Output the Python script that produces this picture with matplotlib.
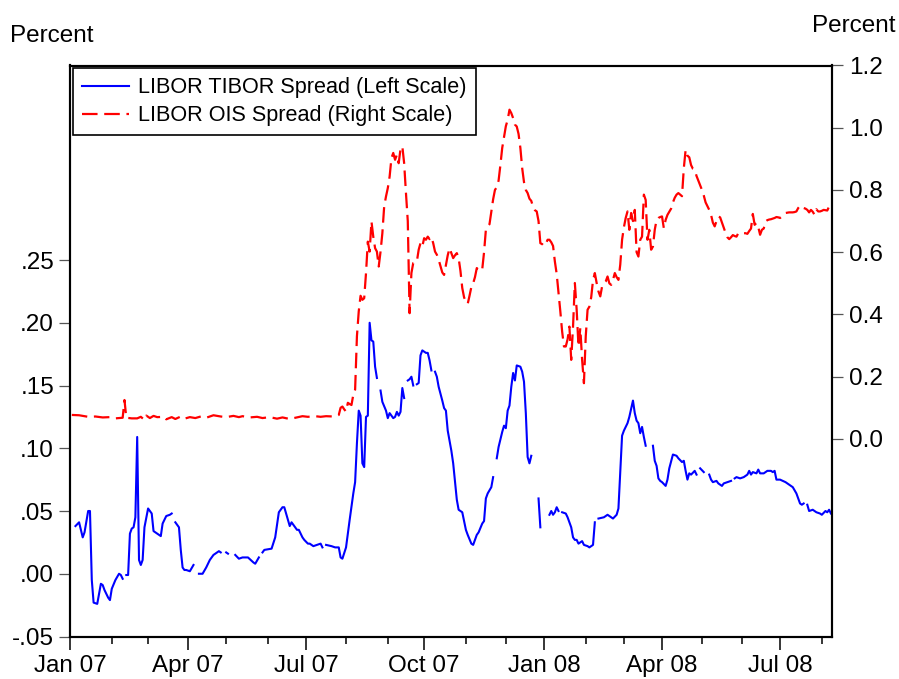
import numpy as np
import pandas as pd
import matplotlib
matplotlib.use("Agg")
import matplotlib.pyplot as plt
from matplotlib.ticker import FixedLocator, FuncFormatter

plt.rcParams['font.family'] = ['Liberation Sans', 'DejaVu Sans']

NA = np.nan

# LIBOR-TIBOR spread (left scale), NA = holiday, no fixing
tibor_dates = [
    '2007-01-04', '2007-01-08', '2007-01-10', '2007-01-11', '2007-01-15', '2007-01-16', '2007-01-17', '2007-01-18',
    '2007-01-22', '2007-01-23', '2007-01-24', '2007-01-25', '2007-01-26', '2007-01-30', '2007-01-31', '2007-02-01',
    '2007-02-05', '2007-02-07', '2007-02-08', '2007-02-09', '2007-02-12', '2007-02-13', '2007-02-14', '2007-02-15',
    '2007-02-16', '2007-02-19', '2007-02-20', '2007-02-21', '2007-02-22', '2007-02-23', '2007-02-26', '2007-02-27',
    '2007-03-01', '2007-03-02', '2007-03-05', '2007-03-06', '2007-03-08', '2007-03-12', '2007-03-13', '2007-03-15',
    '2007-03-19', '2007-03-20', '2007-03-21', '2007-03-22', '2007-03-26', '2007-03-27', '2007-03-28', '2007-03-29',
    '2007-03-30', '2007-04-03', '2007-04-05', '2007-04-06', '2007-04-10', '2007-04-12', '2007-04-16', '2007-04-18',
    '2007-04-20', '2007-04-25', '2007-04-26', '2007-04-30', '2007-05-01', '2007-05-02', '2007-05-03', '2007-05-08',
    '2007-05-10', '2007-05-14', '2007-05-17', '2007-05-22', '2007-05-23', '2007-05-25', '2007-05-28', '2007-05-29',
    '2007-05-30', '2007-06-05', '2007-06-07', '2007-06-11', '2007-06-13', '2007-06-14', '2007-06-15', '2007-06-19',
    '2007-06-20', '2007-06-22', '2007-06-25', '2007-06-26', '2007-06-28', '2007-06-29', '2007-07-03', '2007-07-04',
    '2007-07-06', '2007-07-10', '2007-07-12', '2007-07-13', '2007-07-16', '2007-07-17', '2007-07-20', '2007-07-24',
    '2007-07-26', '2007-07-27', '2007-07-30', '2007-08-01', '2007-08-03', '2007-08-07', '2007-08-08', '2007-08-09',
    '2007-08-10', '2007-08-13', '2007-08-14', '2007-08-15', '2007-08-16', '2007-08-17', '2007-08-20', '2007-08-21',
    '2007-08-22', '2007-08-23', '2007-08-24', '2007-08-27', '2007-08-28', '2007-08-29', '2007-08-31', '2007-09-03',
    '2007-09-04', '2007-09-06', '2007-09-07', '2007-09-10', '2007-09-11', '2007-09-12', '2007-09-13', '2007-09-14',
    '2007-09-17', '2007-09-18', '2007-09-19', '2007-09-20', '2007-09-21', '2007-09-24', '2007-09-25', '2007-09-26',
    '2007-09-27', '2007-09-28', '2007-10-02', '2007-10-03', '2007-10-04', '2007-10-05', '2007-10-08', '2007-10-09',
    '2007-10-10', '2007-10-11', '2007-10-15', '2007-10-16', '2007-10-17', '2007-10-18', '2007-10-22', '2007-10-23',
    '2007-10-25', '2007-10-26', '2007-10-30', '2007-11-01', '2007-11-02', '2007-11-06', '2007-11-07', '2007-11-09',
    '2007-11-12', '2007-11-14', '2007-11-15', '2007-11-16', '2007-11-19', '2007-11-21', '2007-11-22', '2007-11-23',
    '2007-11-26', '2007-11-27', '2007-11-29', '2007-11-30', '2007-12-03', '2007-12-04', '2007-12-05', '2007-12-06',
    '2007-12-07', '2007-12-10', '2007-12-11', '2007-12-13', '2007-12-14', '2007-12-17', '2007-12-18', '2007-12-19',
    '2007-12-20', '2007-12-21', '2007-12-24', '2007-12-27', '2007-12-28', '2007-12-31', '2008-01-04', '2008-01-07',
    '2008-01-08', '2008-01-09', '2008-01-10', '2008-01-11', '2008-01-14', '2008-01-15', '2008-01-17', '2008-01-18',
    '2008-01-22', '2008-01-23', '2008-01-24', '2008-01-25', '2008-01-28', '2008-01-30', '2008-01-31', '2008-02-04',
    '2008-02-05', '2008-02-07', '2008-02-08', '2008-02-11', '2008-02-12', '2008-02-15', '2008-02-19', '2008-02-21',
    '2008-02-22', '2008-02-26', '2008-02-27', '2008-02-29', '2008-03-03', '2008-03-05', '2008-03-06', '2008-03-10',
    '2008-03-11', '2008-03-12', '2008-03-13', '2008-03-14', '2008-03-17', '2008-03-18', '2008-03-19', '2008-03-20',
    '2008-03-25', '2008-03-26', '2008-03-27', '2008-03-28', '2008-03-31', '2008-04-01', '2008-04-03', '2008-04-04',
    '2008-04-07', '2008-04-09', '2008-04-11', '2008-04-14', '2008-04-16', '2008-04-17', '2008-04-18', '2008-04-21',
    '2008-04-22', '2008-04-23', '2008-04-25', '2008-04-28', '2008-04-29', '2008-04-30', '2008-05-02', '2008-05-05',
    '2008-05-07', '2008-05-08', '2008-05-09', '2008-05-13', '2008-05-14', '2008-05-16', '2008-05-19', '2008-05-21',
    '2008-05-23', '2008-05-26', '2008-05-27', '2008-05-28', '2008-05-30', '2008-06-03', '2008-06-05', '2008-06-06',
    '2008-06-09', '2008-06-10', '2008-06-12', '2008-06-13', '2008-06-16', '2008-06-18', '2008-06-20', '2008-06-24',
    '2008-06-25', '2008-06-26', '2008-06-27', '2008-07-01', '2008-07-04', '2008-07-08', '2008-07-10', '2008-07-14',
    '2008-07-16', '2008-07-17', '2008-07-18', '2008-07-21', '2008-07-22', '2008-07-23', '2008-07-25', '2008-07-29',
    '2008-07-31', '2008-08-01', '2008-08-05', '2008-08-06', '2008-08-07', '2008-08-08',
]
tibor_values = [
    0.038, 0.041, 0.029, 0.033, 0.050, 0.050, -0.005, -0.023,
    -0.024, -0.016, -0.008, -0.009, -0.013, -0.019, -0.021, -0.012,
    -0.005, 0.000, -0.001, -0.004, NA, -0.001, -0.001, 0.032,
    0.036, 0.037, 0.045, 0.109, 0.011, 0.007, 0.011, 0.037,
    0.052, 0.050, 0.048, 0.034, 0.032, 0.030, 0.040, 0.046,
    0.047, 0.048, NA, 0.041, 0.037, 0.019, 0.005, 0.003,
    0.003, 0.002, 0.007, NA, 0.000, 0.000, 0.005, 0.011,
    0.015, 0.018, 0.017, NA, 0.017, 0.016, NA, 0.015,
    0.012, 0.013, 0.013, 0.009, 0.008, 0.013, NA, 0.017,
    0.019, 0.020, 0.029, 0.049, 0.053, 0.053, 0.048, 0.038,
    0.041, 0.037, 0.035, 0.035, 0.029, 0.027, 0.024, 0.024,
    0.022, 0.023, 0.024, 0.021, NA, 0.023, 0.022, 0.021,
    0.021, 0.013, 0.012, 0.021, 0.043, 0.064, 0.073, 0.104,
    0.130, 0.126, 0.088, 0.085, 0.125, 0.126, 0.200, 0.186,
    0.185, 0.165, 0.156, NA, 0.146, 0.137, 0.130, 0.124,
    0.128, 0.124, 0.125, 0.129, 0.126, 0.129, 0.148, 0.140,
    NA, 0.154, 0.155, 0.157, 0.150, NA, 0.151, 0.152,
    0.174, 0.178, 0.176, 0.176, 0.170, 0.162, NA, 0.161,
    0.157, 0.149, 0.138, 0.132, 0.130, 0.114, 0.098, 0.088,
    0.059, 0.051, 0.049, 0.035, 0.031, 0.024, 0.023, 0.031,
    0.033, 0.040, 0.042, 0.060, 0.064, 0.069, 0.077, NA,
    0.092, 0.101, 0.113, 0.118, 0.116, 0.130, 0.134, 0.149,
    0.160, 0.154, 0.166, 0.165, 0.161, 0.153, 0.128, 0.093,
    0.088, 0.094, NA, 0.060, 0.037, NA, 0.047, 0.050,
    0.047, 0.049, 0.053, 0.050, NA, 0.049, 0.048, 0.045,
    0.037, 0.029, 0.027, 0.027, 0.024, 0.026, 0.023, 0.022,
    0.021, 0.023, 0.041, NA, 0.044, 0.045, 0.047, 0.045,
    0.044, 0.047, 0.052, 0.110, 0.114, 0.120, 0.125, 0.138,
    0.128, 0.122, 0.120, 0.112, 0.117, 0.109, 0.102, NA,
    0.102, 0.090, 0.086, 0.076, 0.074, 0.073, 0.070, 0.075,
    0.084, 0.095, 0.094, 0.092, 0.089, 0.090, 0.082, 0.075,
    0.080, 0.079, 0.082, 0.079, NA, 0.084, 0.081, NA,
    0.079, 0.075, 0.073, 0.074, 0.072, 0.070, 0.072, 0.073,
    0.074, NA, 0.076, 0.077, 0.076, 0.077, 0.079, 0.082,
    0.079, 0.081, 0.080, 0.083, 0.080, 0.080, 0.082, 0.082,
    0.081, 0.082, 0.075, 0.075, 0.073, 0.071, 0.069, 0.064,
    0.056, 0.055, 0.056, NA, 0.055, 0.050, 0.051, 0.049,
    0.048, 0.047, 0.050, 0.049, 0.051, 0.048,
]

# LIBOR-OIS spread (right scale): calm months first ...
ois_early_dates = [
    '2007-01-02', '2007-01-08', '2007-01-15', '2007-01-19', '2007-01-25', '2007-01-31', '2007-02-05', '2007-02-09',
    '2007-02-12', '2007-02-13', '2007-02-16', '2007-02-21', '2007-02-23', '2007-02-27', '2007-02-28', '2007-03-02',
    '2007-03-06', '2007-03-08', '2007-03-14', '2007-03-15', '2007-03-20', '2007-03-22', '2007-03-27', '2007-03-29',
    '2007-04-03', '2007-04-06', '2007-04-11', '2007-04-16', '2007-04-20', '2007-04-26', '2007-05-01', '2007-05-07',
    '2007-05-10', '2007-05-14', '2007-05-18', '2007-05-24', '2007-05-29', '2007-06-04', '2007-06-08', '2007-06-13',
    '2007-06-19', '2007-06-22', '2007-06-28', '2007-07-03', '2007-07-09', '2007-07-12', '2007-07-17', '2007-07-23',
]
ois_early_values = [
    0.077, 0.076, 0.071, 0.072, 0.069, 0.070, 0.066, 0.068,
    0.125, 0.068, 0.066, 0.066, 0.071, 0.061, 0.075, 0.067,
    0.074, 0.070, 0.071, 0.063, 0.070, 0.064, 0.072, 0.065,
    0.070, 0.067, 0.072, 0.068, 0.076, 0.072, 0.070, 0.074,
    0.070, 0.073, 0.069, 0.071, 0.067, 0.070, 0.065, 0.069,
    0.064, 0.068, 0.073, 0.071, 0.073, 0.071, 0.073, 0.072,
]
# ... then every business day from the end of July 2007 (10 per row = two weeks)
ois_daily_start = '2007-07-26'
ois_daily_values = [
    0.077, 0.100, 0.104, 0.095, 0.088, 0.116, 0.112, 0.109, 0.142, 0.158,
    0.330, 0.410, 0.460, 0.447, 0.452, 0.533, 0.634, 0.602, 0.699, 0.650,
    0.613, 0.602, 0.554, 0.602, 0.661, 0.747, 0.779, 0.806, 0.843, 0.902,
    0.919, 0.897, 0.913, 0.886, 0.932, 0.940, 0.886, 0.790, 0.700, 0.404,
    0.533, 0.565, 0.567, 0.570, 0.608, 0.629, 0.618, 0.645, 0.640, 0.650,
    0.642, 0.649, 0.629, 0.602, 0.592, 0.576, 0.555, 0.535, 0.527, 0.559,
    0.590, 0.613, 0.597, 0.581, 0.590, 0.597, 0.581, 0.540, 0.485, 0.455,
    0.440, 0.434, 0.460, 0.488, 0.500, 0.520, 0.549, 0.543, 0.540, 0.545,
    0.600, 0.672, 0.683, 0.690, 0.730, 0.770, 0.800, 0.809, 0.830, 0.880,
    0.935, 0.970, 1.005, 1.025, 1.058, 1.047, 1.031, 1.010, 1.004, 0.980,
    0.935, 0.870, 0.825, 0.800, 0.790, 0.772, 0.765, 0.745, 0.735, 0.731,
    0.700, 0.629, 0.626, 0.620, 0.627, 0.640, 0.640, 0.632, 0.620, 0.570,
    0.530, 0.470, 0.410, 0.345, 0.297, 0.297, 0.320, 0.361, 0.254, 0.361,
    0.501, 0.415, 0.297, 0.356, 0.254, 0.179, 0.330, 0.415, 0.425, 0.455,
    0.510, 0.533, 0.501, 0.474, 0.458, 0.490, 0.500, 0.506, 0.522, 0.500,
    0.495, 0.511, 0.533, 0.520, 0.511, 0.560, 0.640, 0.680, 0.710, 0.731,
    0.672, 0.726, 0.700, 0.736, 0.600, 0.586, 0.640, 0.650, 0.785, 0.768,
    0.640, 0.672, 0.608, 0.618, 0.672, 0.704, 0.710, 0.713, 0.715, 0.677,
    0.704, 0.720, 0.730, 0.740, 0.760, 0.775, 0.785, 0.790, 0.785, 0.780,
    0.870, 0.929, 0.910, 0.905, 0.880, 0.868, 0.865, 0.845, 0.830, 0.815,
    0.800, 0.782, 0.760, 0.748, 0.736, 0.720, 0.695, 0.683, 0.700, 0.715,
    0.712, 0.695, 0.678, 0.662, 0.648, 0.642, 0.648, 0.655, 0.652, 0.650,
    0.661, 0.662, 0.663, 0.661, 0.661, 0.659, 0.668, 0.676, 0.723, 0.688,
    0.694, 0.681, 0.656, 0.672, 0.676, 0.699, 0.703, 0.705, 0.706, 0.708,
    0.710, 0.713, 0.712, 0.710, 0.715, 0.720, 0.726, 0.727, 0.728, 0.728,
    0.728, 0.729, 0.731, 0.742, 0.749, 0.742, 0.742, 0.740, 0.736, 0.728,
    0.736, 0.730, 0.720, 0.738, 0.731, 0.731, 0.733, 0.736, 0.735, 0.734,
    0.747, 0.752,
]

sample_start = '2007-01-01'
sample_end = '2008-08-08'
quarter_labels = ['Jan 07', 'Apr 07', 'Jul 07', 'Oct 07', 'Jan 08', 'Apr 08', 'Jul 08']
left_ticks = [-0.05, 0.00, 0.05, 0.10, 0.15, 0.20, 0.25]
right_ticks = [0.0, 0.2, 0.4, 0.6, 0.8, 1.0, 1.2]


def obs(dates):
    # EViews daily (5 day week) axis: one step per weekday
    d = pd.DatetimeIndex(pd.to_datetime(dates)).values.astype('datetime64[D]')
    return np.busday_count(np.datetime64(sample_start), d)


ois_dates = pd.to_datetime(ois_early_dates).append(
    pd.bdate_range(ois_daily_start, periods=len(ois_daily_values)))
ois_values = ois_early_values + ois_daily_values

months = pd.date_range(sample_start, sample_end, freq='MS')
quarters = months[months.month.isin([1, 4, 7, 10])]

fig = plt.figure(figsize=(8.99, 6.79), dpi=100)
ax = fig.add_axes([70 / 899, 1 - 636.5 / 679, 762 / 899, 571 / 679])

ax.plot(obs(tibor_dates), np.array(tibor_values, dtype=float), color='#0000ff', lw=1.5,
        label='LIBOR TIBOR Spread (Left Scale)')
ax.set_ylim(-0.05, 0.405)
ax.yaxis.set_major_locator(FixedLocator(left_ticks))
ax.yaxis.set_major_formatter(FuncFormatter(lambda v, p: f'{v:.2f}'.replace('0.', '.', 1)))

ax2 = ax.twinx()
ax2.plot(obs(ois_dates), ois_values, color='#ff0000', lw=1.6, linestyle=(0, (7, 3)),
         label='LIBOR OIS Spread (Right Scale)')
ax2.set_ylim(-0.635, 1.2)
ax2.yaxis.set_major_locator(FixedLocator(right_ticks))
ax2.yaxis.set_major_formatter(FuncFormatter(lambda v, p: f'{v:.1f}'))

ax.set_xlim(0, obs([sample_end])[0] + 0.6)
ax.xaxis.set_major_locator(FixedLocator(obs(quarters)))
ax.xaxis.set_minor_locator(FixedLocator(obs(months)))
ax.set_xticklabels(quarter_labels)

ax.tick_params(axis='x', which='major', direction='out', length=9.5, width=1.1, pad=4, labelsize=17.5)
ax.tick_params(axis='x', which='minor', direction='out', length=5, width=1.1)
ax.tick_params(axis='y', direction='out', length=8, width=0.9, color='#555555', pad=3.5, labelsize=17.5)
ax2.tick_params(axis='y', direction='out', length=8, width=0.9, color='#555555', pad=4, labelsize=17.5)

for a in (ax, ax2):
    for s in a.spines.values():
        s.set_linewidth(1.5)
        s.set_color('black')

h1, l1 = ax.get_legend_handles_labels()
h2, l2 = ax2.get_legend_handles_labels()
leg = ax2.legend(h1 + h2, l1 + l2, loc='upper left', bbox_to_anchor=(0, 1), borderaxespad=0.12,
                 fontsize=15.6, handlelength=2.2, handletextpad=0.4, borderpad=0.42,
                 labelspacing=0.32, fancybox=False, framealpha=1, edgecolor='black')
leg.get_frame().set_linewidth(1.2)

fig.text(10 / 899, 1 - 41.7 / 679, 'Percent', ha='left', va='baseline', fontsize=17.5)
fig.text(895 / 899, 1 - 31.7 / 679, 'Percent', ha='right', va='baseline', fontsize=17.5)

fig.savefig('out.png', dpi=100)
